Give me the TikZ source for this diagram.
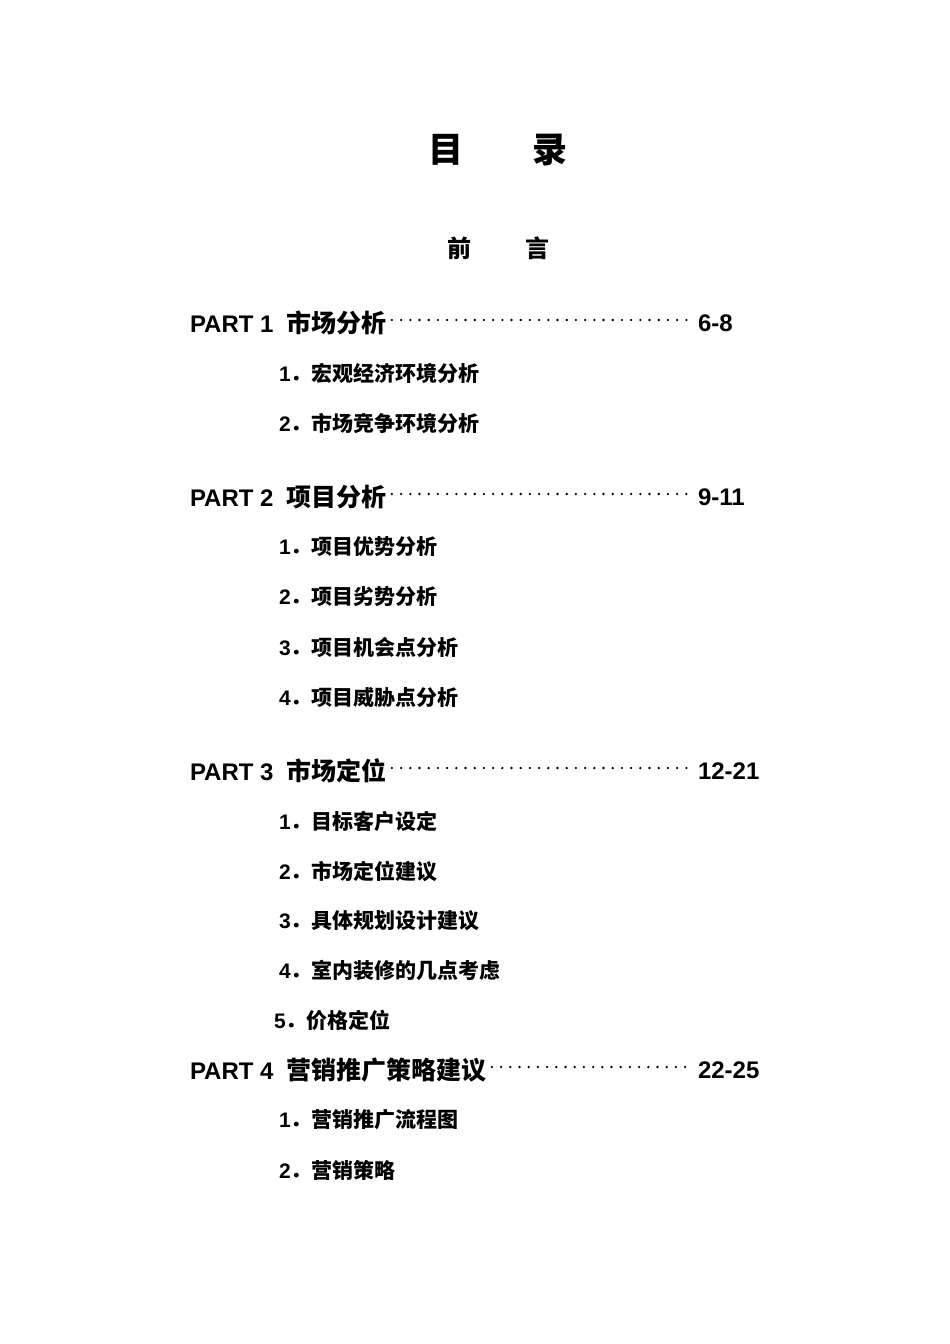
\documentclass[tikz,border=0pt]{standalone}
\usepackage{fontspec}
\setmainfont{Liberation Sans}
\newfontfamily\cjk{Noto Sans CJK SC}
\begin{document}
\begin{tikzpicture}[x=1pt,y=-1pt,
  every node/.style={inner sep=0pt,outer sep=0pt,font=\bfseries},
  head/.style={anchor=center,font=\cjk\bfseries\fontsize{35}{40}\selectfont},
  sub/.style={anchor=center,font=\cjk\bfseries\fontsize{24}{28}\selectfont},
  part/.style={anchor=west,font=\bfseries\fontsize{24}{28}\selectfont},
  item/.style={anchor=west,font=\bfseries\fontsize{21}{26}\selectfont},
  leader/.style={line width=2.6pt,line cap=round,dash pattern=on 0pt off 9.2pt}]
\useasboundingbox (0,0) rectangle (950,1344);
\newcommand\cj[1]{{\cjk\bfseries #1}}
\node[head] (h1) at (446,150) {目};
\node[head] (h2) at (550,150) {录};
\node[sub] (q1) at (459,248) {前};
\node[sub] (q2) at (537,248) {言};
% PART 1
\node[part] (p1) at (190,323) {PART 1\ \ \cj{\fontsize{25}{28}\selectfont 市场分析}};
\node[part] (n1) at (698,323) {6-8};
\draw[leader] ([xshift=5pt,yshift=3pt]p1.east) -- ([xshift=-4pt,yshift=3pt]n1.west);
\node[item] (a1) at (279,373) {1\cj{．宏观经济环境分析}};
\node[item] (a2) at (279,423) {2\cj{．市场竞争环境分析}};
% PART 2
\node[part] (p2) at (190,497) {PART 2\ \ \cj{\fontsize{25}{28}\selectfont 项目分析}};
\node[part] (n2) at (698,497) {9-11};
\draw[leader] ([xshift=5pt,yshift=3pt]p2.east) -- ([xshift=-4pt,yshift=3pt]n2.west);
\node[item] (b1) at (279,547) {1\cj{．项目优势分析}};
\node[item] (b2) at (279,597) {2\cj{．项目劣势分析}};
\node[item] (b3) at (279,647) {3\cj{．项目机会点分析}};
\node[item] (b4) at (279,697) {4\cj{．项目威胁点分析}};
% PART 3
\node[part] (p3) at (190,771) {PART 3\ \ \cj{\fontsize{25}{28}\selectfont 市场定位}};
\node[part] (n3) at (698,771) {12-21};
\draw[leader] ([xshift=5pt,yshift=3pt]p3.east) -- ([xshift=-4pt,yshift=3pt]n3.west);
\node[item] (c1) at (279,821) {1\cj{．目标客户设定}};
\node[item] (c2) at (279,871) {2\cj{．市场定位建议}};
\node[item] (c3) at (279,921) {3\cj{．具体规划设计建议}};
\node[item] (c4) at (279,970) {4\cj{．室内装修的几点考虑}};
\node[item] (c5) at (274,1020) {5\cj{．价格定位}};
% PART 4
\node[part] (p4) at (190,1070) {PART 4\ \ \cj{\fontsize{25}{28}\selectfont 营销推广策略建议}};
\node[part] (n4) at (698,1070) {22-25};
\draw[leader] ([xshift=5pt,yshift=3pt]p4.east) -- ([xshift=-4pt,yshift=3pt]n4.west);
\node[item] (d1) at (279,1120) {1\cj{．营销推广流程图}};
\node[item] (d2) at (279,1170) {2\cj{．营销策略}};
\end{tikzpicture}
\end{document}
